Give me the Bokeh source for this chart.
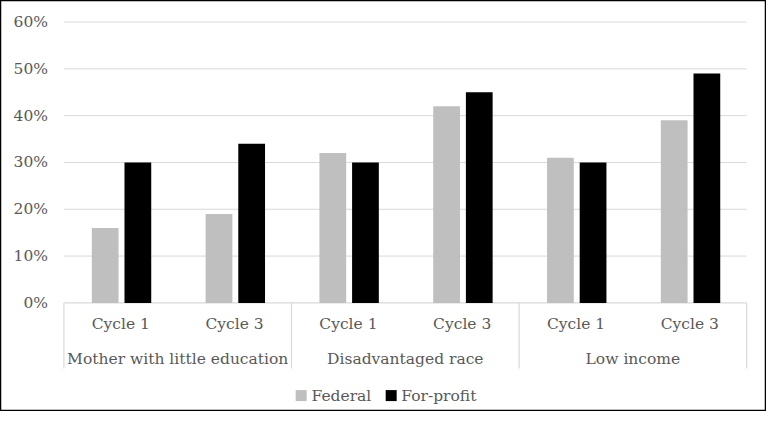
import numpy as np
from bokeh.plotting import figure
from bokeh.models import Range1d
from bokeh.core.properties import value
from bokeh.embed import file_html
from bokeh.resources import INLINE

groups = ["Mother with little education", "Disadvantaged race", "Low income"]
cycles = ["Cycle 1", "Cycle 3"]
series = ["Federal", "For-profit"]
federal = [16, 19, 32, 42, 31, 39]
forprofit = [30, 34, 30, 45, 30, 49]
yticks = [0, 10, 20, 30, 40, 50, 60]
ytick_labels = ["0%", "10%", "20%", "30%", "40%", "50%", "60%"]

FONT = value("DejaVu Serif")
FS = "15.5px"
TXT = "#595959"
GRID = "#d9d9d9"
FED_C = "#bfbfbf"
FP_C = "#000000"

n = len(groups) * len(cycles)
idx = np.arange(n)

p = figure(width=766, height=411, output_backend="svg", toolbar_location=None,
           x_range=Range1d(-0.557, 6.174), y_range=Range1d(-23.2, 64.6),
           x_axis_location=None, y_axis_location=None, min_border=0)
p.grid.visible = False
p.outline_line_color = "black"
p.outline_line_width = 1.5
p.background_fill_color = "white"

# gridlines
gy = yticks[1:]
p.segment(x0=[0] * len(gy), x1=[n] * len(gy), y0=gy, y1=gy, line_color=GRID, line_width=1)
# axis line at zero and category separators
p.segment(x0=[0], x1=[n], y0=[0], y1=[0], line_color=GRID, line_width=1.2)
sep = [0, 2, 4, 6]
p.segment(x0=sep, x1=sep, y0=[0] * 4, y1=[-14.0] * 4, line_color=GRID, line_width=1.2)

# bars
p.vbar(x=idx + 0.363, top=federal, bottom=0, width=0.235, fill_color=FED_C, line_color=None)
p.vbar(x=idx + 0.65, top=forprofit, bottom=0, width=0.235, fill_color=FP_C, line_color=None)

# y tick labels
p.text(x=[-0.139] * len(yticks), y=yticks, text=ytick_labels, text_align="right",
       text_baseline="middle", text_font=FONT, text_font_size=FS, text_color=TXT)

# category labels
p.text(x=idx + 0.5, y=[-4.6] * n, text=cycles * len(groups), text_align="center",
       text_baseline="middle", text_font=FONT, text_font_size=FS, text_color=TXT)
p.text(x=np.arange(len(groups)) * 2 + 1, y=[-12.0] * len(groups), text=groups,
       text_align="center", text_baseline="middle", text_font=FONT,
       text_font_size=FS, text_color=TXT)

# legend
p.scatter(x=[2.085, 2.876], y=[-19.8, -19.8], marker="square", size=11,
          fill_color=[FED_C, FP_C], line_color=None)
p.text(x=[2.176, 2.965], y=[-19.8, -19.8], text=series, text_align="left",
       text_baseline="middle", text_font=FONT, text_font_size=FS, text_color=TXT)

open("out.html", "w").write(file_html(p, INLINE))
